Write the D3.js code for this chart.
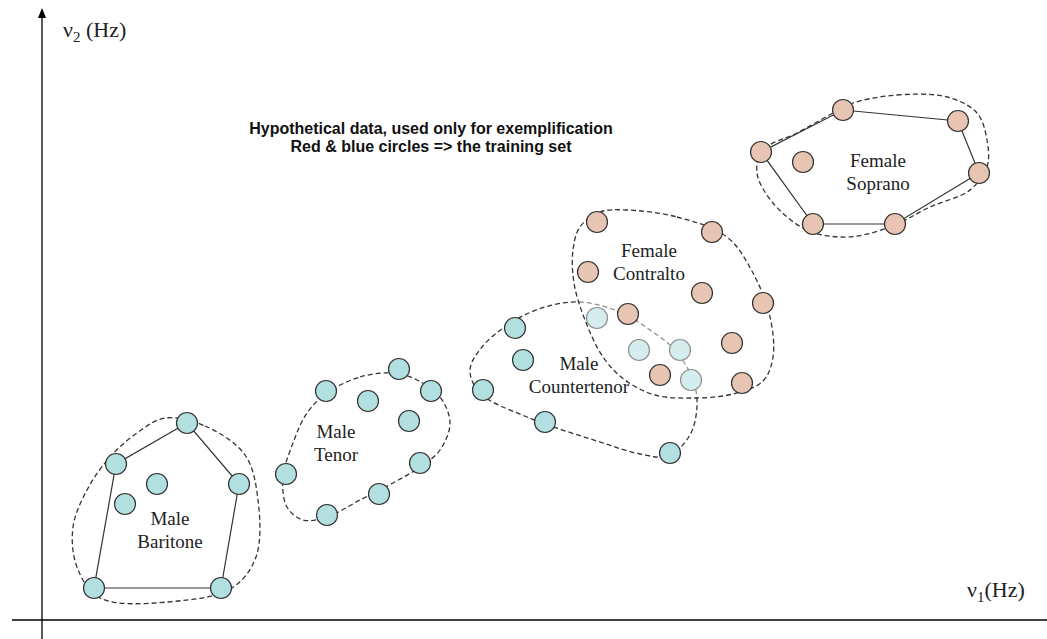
<!DOCTYPE html>
<html lang="en">
<head>
<meta charset="utf-8">
<title>Voice types: hypothetical training set</title>
<script src="https://cdn.jsdelivr.net/npm/d3@7"></script>
<style>
  body { margin: 0; background: #fff; }
</style>
</head>
<body>
<script>
// Width and height
var w = 1047;
var h = 639;

// Points, [v1, v2] in arbitrary Hz-like units
var baritone = [[14.5,19.7],[7.4,15.6],[11.5,13.6],[8.3,11.6],[19.7,13.6],[5.2,3.2],[17.9,3.2]];
var tenor = [[35.7,25.1],[28.4,22.9],[32.6,21.9],[38.9,22.9],[36.7,19.9],[24.4,14.6],[37.8,15.7],[33.7,12.6],[28.5,10.5]];
var countertenor = [[47.3,29.2],[48.1,26.0],[44.1,23.0],[50.3,19.8],[62.8,16.7],[55.5,30.2],[59.7,27.0],[63.8,27.0],[64.9,24.0]];
var contralto = [[55.5,39.8],[67.0,38.8],[54.6,34.8],[66.0,32.7],[72.1,31.7],[58.6,30.6],[69.0,27.7],[61.8,24.5],[70.0,23.7]];
var soprano = [[80.1,51.0],[91.6,49.9],[71.9,46.8],[76.1,45.8],[93.7,44.7],[77.1,39.6],[85.3,39.6]];

// Dashed cluster outlines
var baritoneOutline = [[12.3,20.2],[16.3,19.4],[20.3,16.5],[21.6,12.0],[21.4,6.3],[19.0,3.2],[13.6,1.9],[5.8,2.2],[3.5,5.3],[3.1,9.3],[4.5,13.0],[6.8,16.3],[9.5,18.7]];
var tenorOutline = [[28.5,22.7],[31.8,24.3],[35.1,24.7],[37.5,24.0],[39.8,22.3],[40.8,19.7],[39.8,17.0],[37.8,15.3],[35.1,13.7],[31.8,12.0],[28.5,10.3],[26.1,10.0],[24.5,11.3],[24.1,14.3],[25.1,17.7],[26.5,20.7]];
var countertenorOutline = [[53.8,31.8],[57.8,30.8],[60.8,29.0],[63.3,27.0],[65.1,24.0],[65.5,21.5],[64.8,18.5],[62.6,16.4],[59.8,16.6],[55.8,17.8],[48.5,20.3],[43.8,22.7],[42.8,25.0],[44.0,27.3],[47.0,29.8],[50.3,31.3]];
var contraltoOutline = [[58.5,41.0],[63.5,40.3],[68.5,38.3],[71.1,34.7],[72.8,30.3],[73.1,26.3],[72.1,23.9],[69.1,22.6],[65.1,22.2],[61.3,22.5],[58.3,24.0],[56.1,26.3],[54.3,30.0],[53.2,33.7],[53.1,37.0],[53.8,39.3],[55.8,40.8]];
var sopranoOutline = [[81.1,51.7],[85.5,52.5],[90.5,52.3],[93.5,50.7],[94.5,48.0],[94.5,45.3],[92.8,43.0],[88.8,41.3],[84.8,39.3],[80.5,38.3],[76.5,39.0],[73.1,41.7],[71.5,44.7],[72.1,47.0],[75.5,48.7],[79.1,50.7]];

// Cluster labels
var labelText = [["Male", "Baritone"], ["Male", "Tenor"], ["Male", "Countertenor"], ["Female", "Contralto"], ["Female", "Soprano"]];
var labelPos = [[12.8,9.5], [29.4,18.2], [53.7,25.0], [60.7,36.3], [83.6,45.3]];

var titleLines = ["Hypothetical data, used only for exemplification", "Red & blue circles => the training set"];

var xScale = d3.scaleLinear().domain([0, 100]).range([42, 1042]);
var yScale = d3.scaleLinear().domain([0, 60]).range([620, 20]);

var blue = "#b2dfe0";
var red = "#e8c4b3";

var svg = d3.select("body")
    .append("svg")
    .attr("width", w)
    .attr("height", h);

var blob = d3.line()
    .x(function(d) { return xScale(d[0]); })
    .y(function(d) { return yScale(d[1]); })
    .curve(d3.curveCatmullRomClosed.alpha(0.5));

var poly = d3.line()
    .x(function(d) { return xScale(d[0]); })
    .y(function(d) { return yScale(d[1]); })
    .curve(d3.curveLinearClosed);

function outline(pts) {
    svg.append("path")
        .attr("d", blob(pts))
        .attr("fill", "none")
        .attr("stroke", "#333")
        .attr("stroke-width", 1.3)
        .attr("stroke-dasharray", "5,3");
}

function hull(pts) {
    svg.append("path")
        .attr("d", poly(d3.polygonHull(pts)))
        .attr("fill", "none")
        .attr("stroke", "#333")
        .attr("stroke-width", 1.2);
}

function dots(pts, color) {
    svg.append("g").selectAll("circle")
        .data(pts)
        .enter()
        .append("circle")
        .attr("cx", function(d) { return xScale(d[0]); })
        .attr("cy", function(d) { return yScale(d[1]); })
        .attr("r", 10.5)
        .attr("fill", color)
        .attr("stroke", "#333")
        .attr("stroke-width", 1.2);
}

// Axes
svg.append("line")
    .attr("x1", xScale(0)).attr("x2", xScale(0))
    .attr("y1", 16).attr("y2", h)
    .attr("stroke", "#000").attr("stroke-width", 1.3);
svg.append("path")
    .attr("d", "M" + xScale(0) + ",8 l-4,10 l8,0 z")
    .attr("fill", "#000");
svg.append("line")
    .attr("x1", 12).attr("x2", w)
    .attr("y1", yScale(0)).attr("y2", yScale(0))
    .attr("stroke", "#000").attr("stroke-width", 1.3);

var yLab = svg.append("text")
    .attr("x", 63).attr("y", 37)
    .attr("font-family", "Liberation Serif, serif")
    .attr("font-size", 22)
    .attr("fill", "#222");
yLab.append("tspan").text("\u03bd");
yLab.append("tspan").attr("font-size", 15).attr("dy", 5).text("2");
yLab.append("tspan").attr("dy", -5).text(" (Hz)");

var xLab = svg.append("text")
    .attr("x", 967).attr("y", 597)
    .attr("font-family", "Liberation Serif, serif")
    .attr("font-size", 22)
    .attr("fill", "#222");
xLab.append("tspan").text("\u03bd");
xLab.append("tspan").attr("font-size", 15).attr("dy", 5).text("1");
xLab.append("tspan").attr("dy", -5).text("(Hz)");

// Title
svg.append("g").selectAll("text")
    .data(titleLines)
    .enter()
    .append("text")
    .attr("x", 431)
    .attr("y", function(d, i) { return 134 + i * 18; })
    .attr("text-anchor", "middle")
    .attr("font-family", "Liberation Sans, Arial, sans-serif")
    .attr("font-weight", "bold")
    .attr("font-size", 16)
    .attr("fill", "#111")
    .text(function(d) { return d; });

// Clusters
outline(baritoneOutline);
hull(baritone);
dots(baritone, blue);

outline(tenorOutline);
dots(tenor, blue);

outline(countertenorOutline);
dots(countertenor, blue);

// contralto region washes out what lies underneath
svg.append("path")
    .attr("d", blob(contraltoOutline))
    .attr("fill", "#fff")
    .attr("fill-opacity", 0.45);
outline(contraltoOutline);
dots(contralto, red);

outline(sopranoOutline);
hull(soprano);
dots(soprano, red);

// Cluster labels
labelText.forEach(function(lines, i) {
    var t = svg.append("text")
        .attr("x", xScale(labelPos[i][0]))
        .attr("y", yScale(labelPos[i][1]))
        .attr("text-anchor", "middle")
        .attr("font-family", "Liberation Serif, serif")
        .attr("font-size", 19)
        .attr("fill", "#222");
    lines.forEach(function(s, j) {
        t.append("tspan")
            .attr("x", xScale(labelPos[i][0]))
            .attr("dy", j === 0 ? 0 : 23)
            .text(s);
    });
});
</script>
</body>
</html>
